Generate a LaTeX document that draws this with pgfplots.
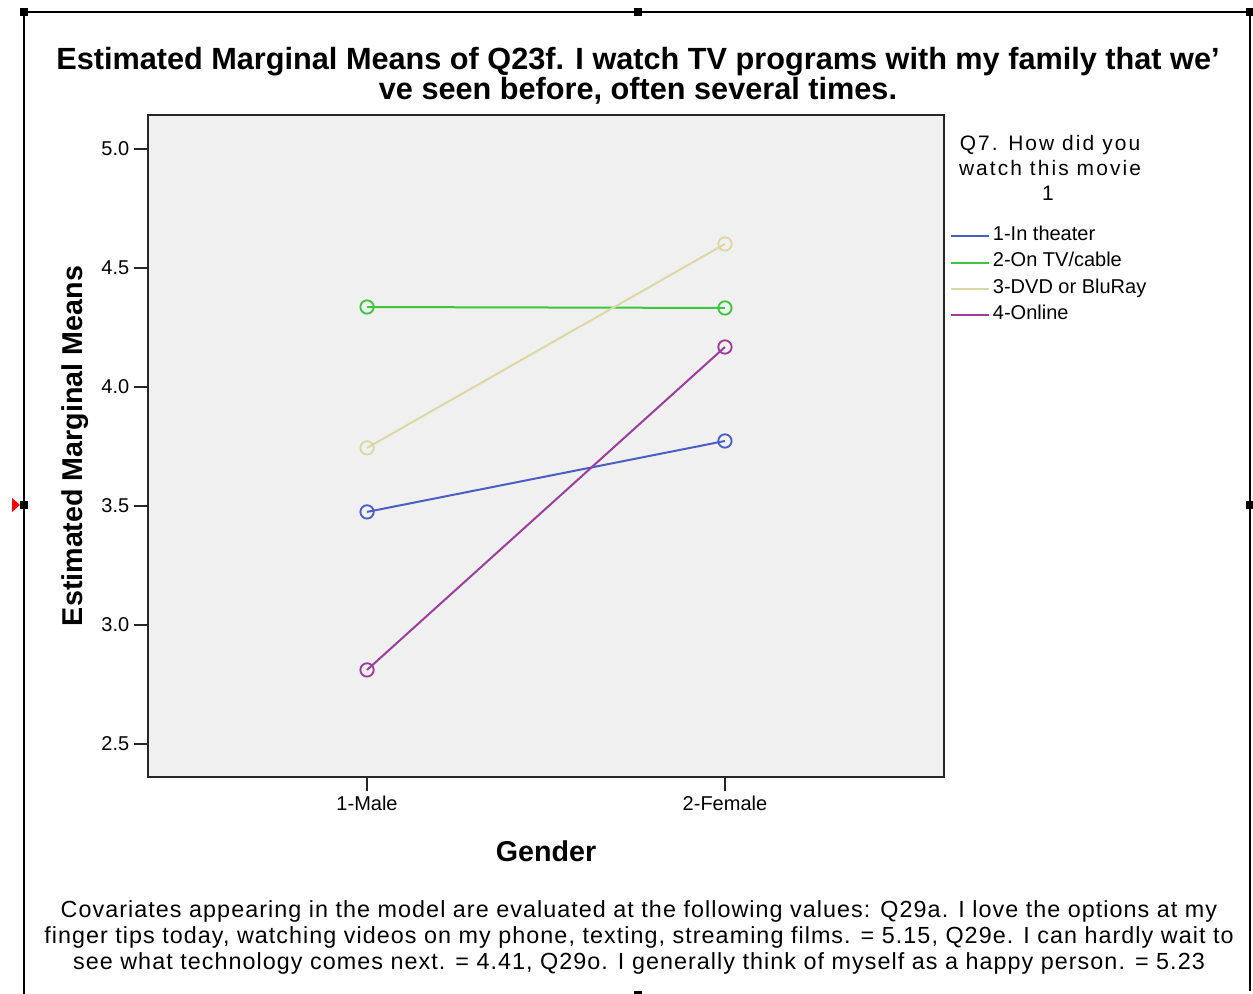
\documentclass[border=0pt]{standalone}
\usepackage{fontspec}
\setmainfont{Liberation Sans}
\usepackage{pgfplots}
\pgfplotsset{compat=1.18}
\definecolor{cblue}{HTML}{4A5FC1}
\definecolor{cgreen}{HTML}{3EC43E}
\definecolor{cbeige}{HTML}{DCD8A2}
\definecolor{cpurple}{HTML}{9B3D9B}
\definecolor{bg}{HTML}{F0F0F0}
\begin{document}
\begin{tikzpicture}[x=0.75pt,y=0.75pt]
\path[use as bounding box] (0,0) rectangle (1253,994);
% outer frame
\draw[line width=1.4pt] (24,0) -- (24,982) -- (1250,982) -- (1250,3);
\fill (20,978) rectangle (28,986);
\fill (634,978) rectangle (642,986);
\fill (1246,978) rectangle (1254,986);
\fill (20,485) rectangle (28,493);
\fill (1246,485) rectangle (1254,493);
\fill (634,0) rectangle (642,3);
\fill[red] (12,496) -- (20,489) -- (12,482) -- cycle;
% title
\node[anchor=base, font=\fontsize{23}{26}\selectfont\bfseries] at (638,924) {Estimated Marginal Means of Q23f. I watch TV programs with my family that we’};
\node[anchor=base, font=\fontsize{23}{26}\selectfont\bfseries] at (638,894) {ve seen before, often several times.};
% axis labels
\node[anchor=base, rotate=90, font=\fontsize{21.5}{24}\selectfont\bfseries] at (82,548) {Estimated Marginal Means};
\node[anchor=base, font=\fontsize{21.5}{24}\selectfont\bfseries] at (546,132) {Gender};
% legend title
\begin{scope}[every node/.style={anchor=base, font=\fontsize{15.7}{18.75}\selectfont\addfontfeature{LetterSpace=10}}]
\node at (1050,843) {Q7. How did you};
\node at (1050,818) {watch this movie};
\node at (1048,793) {1};
\end{scope}
% footnote
\begin{scope}[every node/.style={anchor=base, font=\fontsize{17.5}{19}\selectfont\addfontfeature{LetterSpace=4.5}}]
\node at (639,76) {Covariates appearing in the model are evaluated at the following values: Q29a. I love the options at my};
\node at (639,50) {finger tips today, watching videos on my phone, texting, streaming films. = 5.15, Q29e. I can hardly wait to};
\node at (639,24) {see what technology comes next. = 4.41, Q29o. I generally think of myself as a happy person. = 5.23};
\end{scope}
\begin{axis}[
  at={(111pt,162.75pt)}, anchor=south west,
  scale only axis, width=597pt, height=496.5pt,
  xmin=0.388, xmax=2.612, ymin=2.361, ymax=5.143,
  axis background/.style={fill=bg},
  axis line style={line width=1.3pt, color=black!85},
  xtick={1,2}, xticklabels={1-Male,2-Female},
  ytick={2.5,3.0,3.5,4.0,4.5,5.0},
  yticklabel style={/pgf/number format/.cd, fixed, fixed zerofill, precision=1},
  /pgf/number format/assume math mode=true,
  xtick pos=left, ytick pos=left,
  tick align=outside, major tick length=10.5pt,
  tick style={line width=1.3pt, color=black!85},
  ticklabel style={font=\fontsize{15}{18}\selectfont},
  every axis plot/.append style={line width=1.5pt, mark=o, mark size=5pt, mark options={line width=1.4pt}},
  legend cell align=left,
  legend style={at={(rel axis cs:1,1)}, anchor=north west, xshift=4.5pt, yshift=-81pt,
    draw=none, fill=none, inner sep=0pt, row sep=0pt, column sep=2pt,
    font=\fontsize{15}{18}\selectfont,
    nodes={inner sep=0pt, text height=13pt, text depth=6.7pt}},
  legend image code/.code={\draw[#1, mark=none] (0pt,0pt) -- (28.5pt,0pt);},
]
\addplot[color=cblue] coordinates {(1,3.475) (2,3.773)};
\addlegendentry{1-In theater}
\addplot[color=cgreen] coordinates {(1,4.336) (2,4.332)};
\addlegendentry{2-On TV/cable}
\addplot[color=cbeige] coordinates {(1,3.744) (2,4.601)};
\addlegendentry{3-DVD or BluRay}
\addplot[color=cpurple] coordinates {(1,2.811) (2,4.168)};
\addlegendentry{4-Online}
\end{axis}
\end{tikzpicture}
\end{document}
